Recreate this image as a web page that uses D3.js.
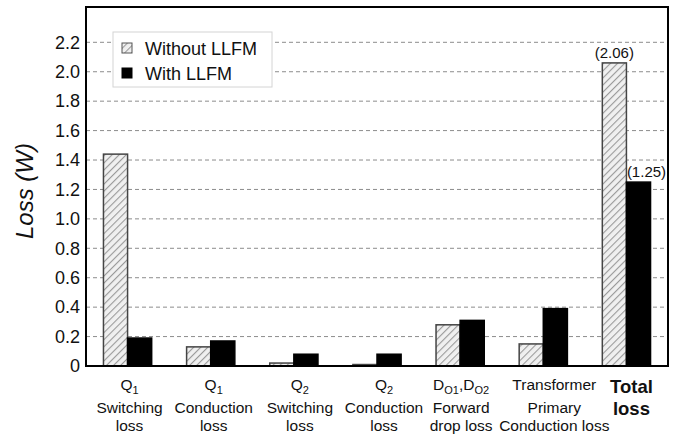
<!DOCTYPE html>
<html>
<head>
<meta charset="utf-8">
<script src="https://cdn.jsdelivr.net/npm/d3@7/dist/d3.min.js"></script>
<style>
  html, body { margin: 0; padding: 0; background: #fff; }
  svg { display: block; font-family: "Liberation Sans", Arial, sans-serif; }
</style>
</head>
<body>
<svg id="chart" width="680" height="436"></svg>
<script>
// Loss breakdown, with and without LLFM
const categories = ["q1sw", "q1cond", "q2sw", "q2cond", "diode", "xfmr", "total"];
// Category label lines; "_x" marks a subscript run
const categoryLines = [
  ["Q_1", "Switching", "loss"],
  ["Q_1", "Conduction", "loss"],
  ["Q_2", "Switching", "loss"],
  ["Q_2", "Conduction", "loss"],
  ["D_O1,D_O2", "Forward", "drop loss"],
  ["Transformer", "Primary", "Conduction loss"],
  ["Total", "loss"]
];
const seriesNames = ["Without LLFM", "With LLFM"];
const withoutLLFM = [1.44, 0.13, 0.02, 0.01, 0.28, 0.15, 2.06];
const withLLFM    = [0.19, 0.17, 0.08, 0.08, 0.31, 0.39, 1.25];
const yTicks = [0, 0.2, 0.4, 0.6, 0.8, 1.0, 1.2, 1.4, 1.6, 1.8, 2.0, 2.2];
const totalLabels = ["(2.06)", "(1.25)"];

// layout
const L = 86, R = 668, T = 7, B = 366;
const labelDx = [2, 3, 6, 7, 1, 11, 5];   // horizontal nudge of each category label

const svg = d3.select("#chart");

const x = d3.scaleBand().domain(categories).range([L, R])
  .paddingInner(0.42).paddingOuter(0.21);
const xs = d3.scaleBand().domain(seriesNames).range([0, x.bandwidth()]);
const y = d3.scaleLinear().domain([0, 2.44]).range([B, T]);

// hatch pattern for the "without" series
const defs = svg.append("defs");
const pat = defs.append("pattern").attr("id", "hatch")
  .attr("patternUnits", "userSpaceOnUse").attr("width", 5).attr("height", 5)
  .attr("patternTransform", "rotate(45)");
pat.append("rect").attr("width", 5).attr("height", 5).attr("fill", "#f0f0f0");
pat.append("line").attr("x1", 0).attr("y1", 0).attr("x2", 0).attr("y2", 5)
  .attr("stroke", "#9a9a9a").attr("stroke-width", 2.2);

// gridlines
svg.append("g").selectAll("line").data(yTicks.filter(d => d > 0)).join("line")
  .attr("x1", L).attr("x2", R)
  .attr("y1", d => y(d)).attr("y2", d => y(d))
  .attr("stroke", "#8c8c8c").attr("stroke-width", 1)
  .attr("stroke-dasharray", "4,3");

// y axis labels
const yAxis = d3.axisLeft(y).tickValues(yTicks)
  .tickFormat(d => d === 0 ? "0" : d3.format(".1f")(d))
  .tickSize(0).tickPadding(6);
svg.append("g").attr("transform", `translate(${L},0)`).call(yAxis)
  .call(g => g.select(".domain").remove())
  .call(g => g.selectAll("text").attr("font-size", 18).attr("fill", "#111")
    .attr("font-family", "Liberation Sans, Arial, sans-serif"));

// bars
const rows = categories.map((c, i) => ({ c, vals: [withoutLLFM[i], withLLFM[i]] }));
const grp = svg.append("g").selectAll("g").data(rows).join("g")
  .attr("transform", d => `translate(${x(d.c)},0)`);
grp.selectAll("rect").data(d => d.vals.map((v, k) => ({ v, s: seriesNames[k], k })))
  .join("rect")
  .attr("x", d => xs(d.s))
  .attr("y", d => y(d.v))
  .attr("width", xs.bandwidth())
  .attr("height", d => B - y(d.v))
  .attr("fill", d => d.k === 0 ? "url(#hatch)" : "#000")
  .attr("stroke", d => d.k === 0 ? "#444" : "#000")
  .attr("stroke-width", 1.5);

// value labels on the total bars
const lastCat = categories[categories.length - 1];
const totVals = [withoutLLFM[withoutLLFM.length - 1], withLLFM[withLLFM.length - 1]];
svg.append("g").selectAll("text").data(totVals).join("text")
  .attr("x", (d, k) => x(lastCat) + xs(seriesNames[k]) + xs.bandwidth() / 2 + (k === 1 ? 8 : 0))
  .attr("y", d => y(d) - 5)
  .attr("text-anchor", "middle")
  .attr("font-size", 15).attr("fill", "#111")
  .text((d, k) => totalLabels[k]);

// frame
svg.append("rect").attr("x", L).attr("y", T).attr("width", R - L).attr("height", B - T)
  .attr("fill", "none").attr("stroke", "#000").attr("stroke-width", 2);

// category labels with subscripts
function addRich(textSel, str, subSize) {
  const parts = str.split(/(_[A-Za-z0-9]+)/).filter(s => s.length);
  let lowered = false;
  parts.forEach(p => {
    if (p.startsWith("_")) {
      textSel.append("tspan").attr("font-size", subSize).attr("dy", 4).text(p.slice(1));
      lowered = true;
    } else {
      const ts = textSel.append("tspan").text(p);
      if (lowered) { ts.attr("dy", -4); lowered = false; }
    }
  });
}
const normalBase = [390, 413, 431];
const boldBase = [393, 415];
categoryLines.forEach((lines, i) => {
  const bold = categories[i] === "total";
  const cx = x(categories[i]) + x.bandwidth() / 2 + labelDx[i];
  lines.forEach((ln, j) => {
    const t = svg.append("text")
      .attr("x", cx)
      .attr("y", bold ? boldBase[j] : normalBase[j])
      .attr("text-anchor", "middle")
      .attr("font-size", bold ? 18.5 : 15.5)
      .attr("font-weight", bold ? "bold" : "normal")
      .attr("fill", "#111");
    addRich(t, ln, 11);
  });
});

// y axis title
svg.append("text")
  .attr("transform", "translate(33,191) rotate(-90)")
  .attr("text-anchor", "middle")
  .attr("font-size", 24).attr("font-style", "italic").attr("fill", "#111")
  .text("Loss (W)");

// legend
const lg = svg.append("g");
lg.append("rect").attr("x", 113).attr("y", 32).attr("width", 159).attr("height", 55)
  .attr("fill", "#fff").attr("stroke", "#d4d4d4").attr("stroke-width", 1);
seriesNames.forEach((s, k) => {
  const cy = 48 + k * 25;
  lg.append("rect").attr("x", 122).attr("y", cy - 5).attr("width", 10).attr("height", 10)
    .attr("fill", k === 0 ? "url(#hatch)" : "#000")
    .attr("stroke", k === 0 ? "#555" : "#000").attr("stroke-width", 1);
  lg.append("text").attr("x", 145).attr("y", cy + 6.5)
    .attr("font-size", 18).attr("fill", "#111").text(s);
});
</script>
</body>
</html>
